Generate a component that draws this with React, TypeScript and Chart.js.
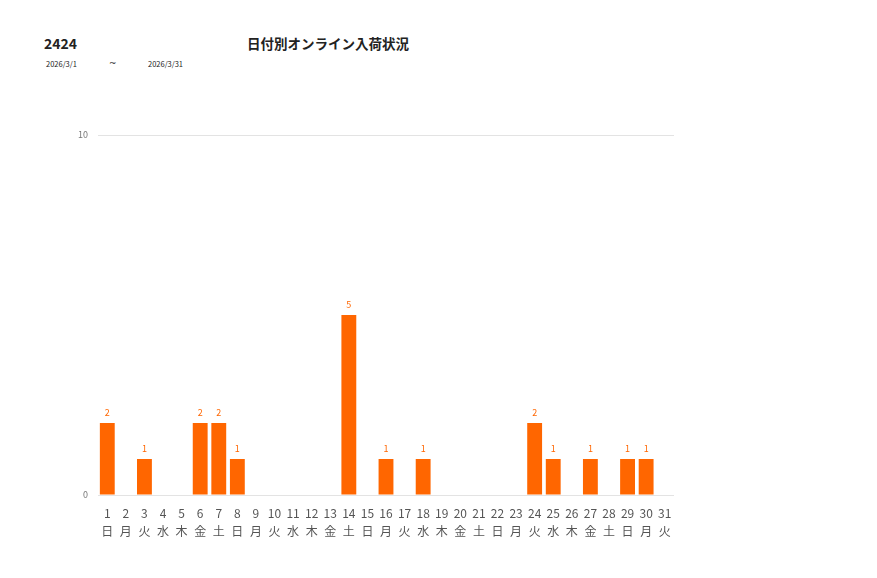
import React, { useEffect, useRef } from 'react';
import { Chart, registerables } from 'chart.js';

Chart.register(...registerables);

const days = ['1', '2', '3', '4', '5', '6', '7', '8', '9', '10', '11', '12', '13', '14', '15', '16', '17', '18', '19', '20', '21', '22', '23', '24', '25', '26', '27', '28', '29', '30', '31'];
const weekdays = ['日', '月', '火', '水', '木', '金', '土', '日', '月', '火', '水', '木', '金', '土', '日', '月', '火', '水', '木', '金', '土', '日', '月', '火', '水', '木', '金', '土', '日', '月', '火'];
const arrivals = [2, 0, 1, 0, 0, 2, 2, 1, 0, 0, 0, 0, 0, 5, 0, 1, 0, 1, 0, 0, 0, 0, 0, 2, 1, 0, 1, 0, 1, 1, 0];
const yTicks = [0, 10];

const FONT = "'Segoe UI', 'Noto Sans CJK JP', sans-serif";
const ORANGE = '#ff6600';

// draws the value above each non-zero bar
const valueLabels = {
  id: 'valueLabels',
  afterDatasetsDraw(chart: Chart) {
    const ctx = chart.ctx;
    const meta = chart.getDatasetMeta(0);
    ctx.save();
    ctx.fillStyle = ORANGE;
    ctx.font = `9px ${FONT}`;
    ctx.textAlign = 'center';
    ctx.textBaseline = 'bottom';
    meta.data.forEach((bar: any, i: number) => {
      const v = arrivals[i];
      if (!v) return;
      ctx.fillText(String(v), bar.x, bar.y - 6);
    });
    ctx.restore();
  },
};

const App: React.FC = () => {
  const chartRef = useRef<HTMLCanvasElement>(null);
  const chartInstance = useRef<Chart | null>(null);

  useEffect(() => {
    document.body.style.margin = '0';
    if (!chartRef.current) return;
    if (chartInstance.current) chartInstance.current.destroy();

    chartInstance.current = new Chart(chartRef.current, {
      type: 'bar',
      data: {
        labels: days.map((d, i) => [d, weekdays[i]]),
        datasets: [
          {
            label: '入荷',
            data: arrivals,
            backgroundColor: ORANGE,
            barPercentage: 0.8,
            categoryPercentage: 1,
          },
        ],
      },
      options: {
        animation: false,
        responsive: false,
        maintainAspectRatio: false,
        layout: { padding: { left: 60, right: 203, top: 135, bottom: 33 } },
        scales: {
          x: {
            grid: { display: false, drawTicks: false },
            border: { display: false },
            ticks: {
              color: '#555',
              padding: 9,
              maxRotation: 0,
              autoSkip: false,
              font: { family: FONT, size: 12, lineHeight: 1.5 },
            },
            afterFit(scale: any) {
              scale.height = 50;
            },
          },
          y: {
            min: 0,
            max: 10,
            afterBuildTicks(scale: any) {
              scale.ticks = yTicks.map(v => ({ value: v }));
            },
            grid: { color: '#e3e3e3', drawTicks: false },
            border: { display: false },
            ticks: {
              color: '#777',
              padding: 10,
              font: { family: FONT, size: 9 },
            },
            afterFit(scale: any) {
              scale.width = 38;
            },
          },
        },
        plugins: {
          legend: { display: false },
          tooltip: { enabled: false },
        },
      },
      plugins: [valueLabels],
    });

    return () => {
      if (chartInstance.current) {
        chartInstance.current.destroy();
        chartInstance.current = null;
      }
    };
  }, []);

  return (
    <div style={{ position: 'relative', width: 877, height: 578, fontFamily: FONT, color: '#222' }}>
      <div style={{ position: 'absolute', left: 44, top: 33, fontSize: 14, fontWeight: 'bold' }}>2424</div>
      <div style={{ position: 'absolute', left: 247, top: 33, fontSize: 13.5, fontWeight: 'bold' }}>日付別オンライン入荷状況</div>
      <div style={{ position: 'absolute', left: 46, top: 58, fontSize: 7.5 }}>2026/3/1</div>
      <div style={{ position: 'absolute', left: 109, top: 58, fontSize: 9, fontFamily: "'DejaVu Sans', sans-serif" }}>~</div>
      <div style={{ position: 'absolute', left: 148, top: 58, fontSize: 7.5 }}>2026/3/31</div>
      <canvas ref={chartRef} width={877} height={578} style={{ position: 'absolute', left: 0, top: 0 }} />
    </div>
  );
};

export default App;
